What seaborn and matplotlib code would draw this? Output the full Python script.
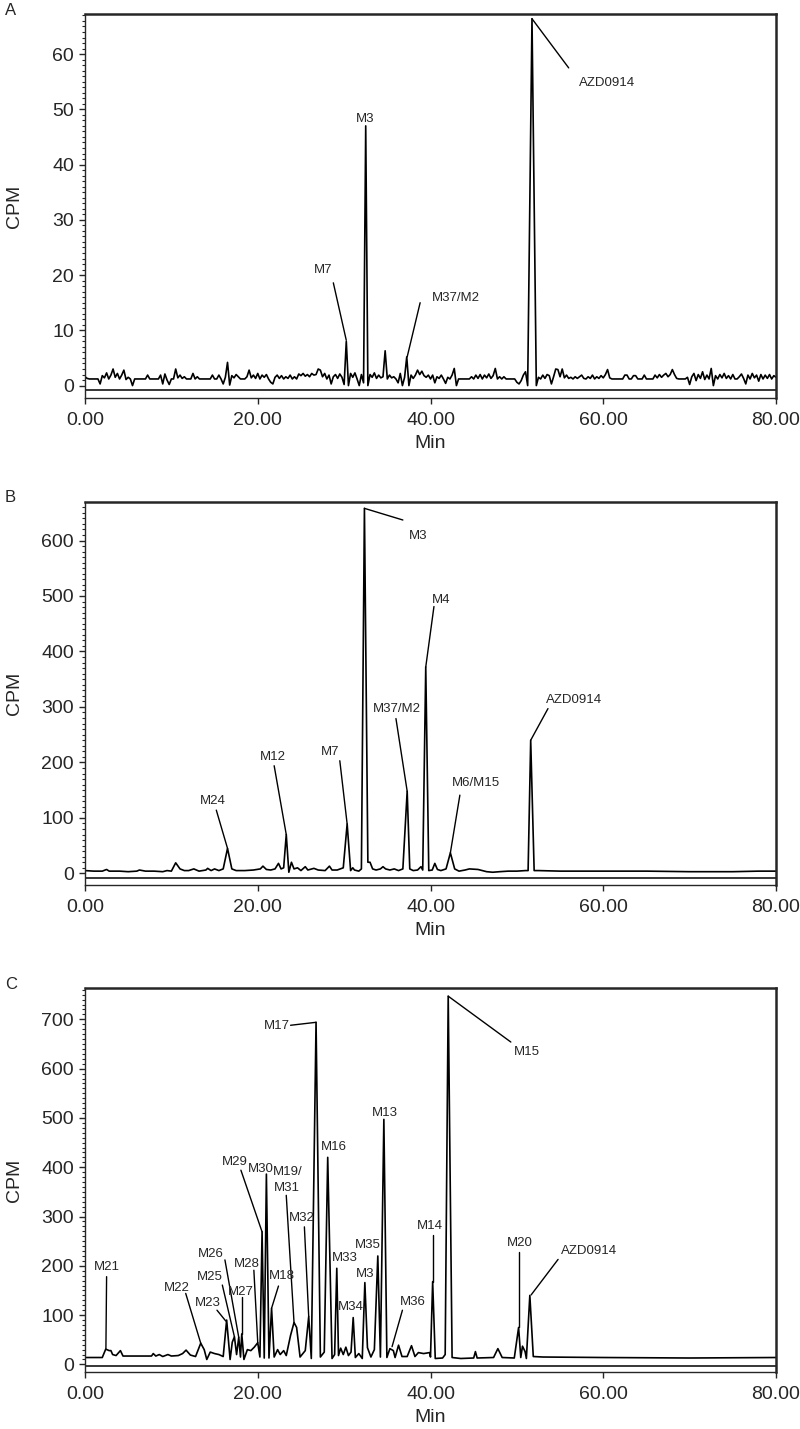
import numpy as np
import matplotlib
matplotlib.use('Agg')
import matplotlib.pyplot as plt
import seaborn as sns

# ---------------- data ----------------
# Panel A: flow detector sampled every 0.25 min, 0-80 min
a_time = np.linspace(0, 80, 321)
a_cpm = [
    1.6, 1.3, 1.2, 1.2, 1.2, 1.2, 1.2, 0.3, 1.8, 1.4, 2.3, 1.2, 1.9, 3.0, 1.5, 2.2, 1.2, 1.9, 2.8, 1.1,
    1.5, 1.2, 0.0, 1.2, 1.2, 1.2, 1.2, 1.2, 1.2, 1.9, 1.2, 1.2, 1.2, 1.2, 1.2, 1.9, 0.3, 2.1, 1.0, 0.2,
    1.2, 1.2, 3.0, 1.4, 1.9, 1.3, 1.6, 1.2, 1.2, 1.2, 2.2, 1.2, 1.6, 1.2, 1.2, 1.2, 1.2, 1.2, 1.2, 1.9,
    1.2, 1.2, 1.9, 1.2, 0.3, 1.5, 4.2, 0.1, 1.8, 1.4, 2.0, 1.6, 1.2, 1.2, 1.2, 1.6, 2.8, 1.4, 1.9, 1.3,
    2.2, 1.2, 1.9, 1.5, 2.0, 1.2, 0.6, 0.3, 1.5, 1.9, 1.3, 1.8, 1.2, 1.6, 1.3, 1.9, 1.2, 1.6, 1.2, 2.1,
    1.8, 2.2, 1.7, 2.0, 1.6, 2.2, 1.9, 2.0, 3.0, 2.8, 1.6, 2.2, 1.2, 1.9, 0.3, 1.6, 2.0, 1.3, 2.1, 1.5,
    0.2, 8.0, 0.0, 2.2, 1.5, 2.3, 1.2, 0.0, 2.0, 0.5, 47.0, 0.0, 2.0, 1.5, 2.3, 1.3, 1.9, 1.4, 1.6, 6.3,
    1.2, 1.9, 1.4, 1.6, 1.2, 0.5, 2.2, 0.0, 1.5, 5.2, 0.0, 1.9, 1.3, 1.9, 2.8, 2.0, 2.6, 1.8, 1.5, 1.9,
    1.2, 1.9, 0.5, 1.6, 1.3, 1.9, 1.2, 0.4, 1.5, 1.2, 1.9, 3.1, 0.0, 1.2, 1.2, 1.2, 1.2, 1.2, 1.2, 1.6,
    1.2, 1.9, 1.3, 2.0, 1.2, 1.9, 1.4, 2.1, 1.3, 1.8, 3.1, 1.2, 1.6, 1.2, 1.6, 1.2, 1.2, 1.2, 1.2, 1.2,
    0.6, 0.3, 0.9, 1.9, 2.5, 0.0, 33.0, 66.4, 33.0, 0.0, 1.5, 1.2, 1.9, 1.3, 2.0, 1.8, 0.3, 1.6, 3.0, 2.9,
    1.6, 3.0, 1.4, 1.9, 1.3, 1.5, 1.2, 1.6, 1.3, 1.6, 1.9, 1.3, 1.2, 1.6, 1.3, 1.9, 1.2, 1.6, 1.3, 1.8,
    1.4, 2.0, 2.9, 1.4, 1.2, 1.2, 1.2, 1.2, 1.2, 1.2, 1.9, 1.9, 1.2, 1.2, 1.8, 1.8, 1.2, 1.2, 1.2, 1.9,
    1.2, 1.2, 1.2, 1.2, 1.9, 1.4, 2.0, 1.5, 1.9, 2.2, 1.6, 2.0, 2.9, 2.0, 1.3, 1.2, 1.2, 1.2, 1.2, 1.5,
    0.2, 1.6, 2.2, 0.9, 2.0, 1.3, 2.5, 1.1, 1.9, 1.2, 3.1, 0.0, 1.8, 1.2, 2.0, 1.4, 2.2, 1.3, 1.8, 1.2,
    2.0, 1.2, 1.2, 1.6, 2.1, 1.3, 0.3, 1.9, 1.2, 2.2, 1.4, 1.9, 0.8, 2.0, 1.2, 1.9, 1.3, 2.0, 1.2, 1.8,
    1.5,
]

# Panel B
b_time = [0.0, 1.0, 2.0, 2.5, 2.8, 4.0, 5.0, 6.0, 6.3, 7.0, 8.0, 9.0, 9.5, 10.0, 10.5, 11.0,
          11.5, 12.0, 12.6, 13.2, 14.0, 14.2, 14.6, 15.0, 15.5, 16.0, 16.5, 17.0, 17.5, 18.5,
          19.5, 20.3, 20.6, 21.0, 21.5, 22.0, 22.4, 22.7, 23.0, 23.3, 23.6, 23.9, 24.2, 24.6,
          25.0, 25.5, 25.8, 26.5, 27.0, 27.8, 28.3, 28.6, 29.2, 29.9, 30.35, 30.75, 31.0, 31.2,
          31.7, 32.0, 32.35, 32.75, 33.0, 33.3, 33.7, 34.2, 34.5, 34.8, 35.3, 35.8, 36.3, 36.8,
          37.3, 37.6, 38.0, 38.5, 38.9, 39.1, 39.45, 39.8, 40.2, 40.5, 40.8, 41.2, 41.8, 42.3,
          42.8, 43.3, 44.0, 44.5, 45.5, 46.5, 47.2, 48.0, 49.0, 50.0, 51.0, 51.3, 51.6, 52.0,
          52.5, 55.0, 60.0, 65.0, 70.0, 75.0, 78.0, 80.0]
b_cpm = [5, 4, 4, 7, 4, 4, 3, 4, 6, 4, 4, 3, 5, 4, 19, 8,
         5, 5, 8, 4, 6, 9, 5, 8, 5, 8, 45, 8, 5, 5,
         6, 8, 13, 7, 6, 8, 18, 8, 10, 70, 2, 20, 8, 10,
         5, 12, 6, 9, 6, 5, 13, 6, 6, 10, 89, 5, 10, 6,
         4, 8, 658, 20, 20, 8, 6, 8, 12, 8, 6, 8, 5, 8,
         148, 8, 5, 6, 12, 6, 372, 5, 6, 18, 7, 5, 8, 37,
         8, 4, 6, 8, 7, 3, 2, 3, 4, 4, 5, 5, 240, 5,
         5, 4, 4, 4, 3, 3, 4, 4]

# Panel C
c_time = [0.0, 2.0, 2.4, 2.8, 3.0, 3.2, 3.6, 4.1, 4.4, 5.0, 7.7, 7.9, 8.2, 8.6, 9.0, 9.6,
          10.0, 10.8, 11.3, 11.7, 12.2, 12.8, 13.4, 13.8, 14.1, 14.5, 15.0, 15.5, 16.0, 16.4,
          16.8, 17.05, 17.3, 17.55, 17.8, 18.0, 18.15, 18.4, 18.8, 19.2, 19.6, 20.0, 20.25, 20.5,
          20.75, 21.0, 21.3, 21.6, 21.9, 22.3, 22.6, 23.0, 23.3, 23.8, 24.2, 24.5, 24.9, 25.5,
          25.9, 26.2, 26.75, 27.25, 27.7, 28.1, 28.6, 28.9, 29.15, 29.35, 29.6, 29.9, 30.2, 30.5,
          30.8, 31.05, 31.3, 31.7, 32.1, 32.4, 32.7, 33.1, 33.5, 33.9, 34.2, 34.6, 34.95, 35.3,
          35.7, 35.9, 36.3, 36.7, 37.3, 37.8, 38.2, 38.6, 39.2, 39.9, 40.0, 40.25, 40.55, 41.4,
          41.7, 42.05, 42.5, 43.5, 45.0, 45.2, 45.4, 47.3, 47.8, 48.3, 49.7, 50.2, 50.45, 50.65,
          50.95, 51.1, 51.5, 51.9, 53.0, 60.0, 70.0, 80.0]
c_cpm = [14, 14, 31, 28, 28, 20, 18, 28, 17, 17, 17, 22, 17, 20, 16, 20,
         17, 18, 22, 29, 19, 16, 43, 30, 10, 25, 22, 20, 16, 90,
         10, 45, 56, 20, 55, 15, 62, 10, 30, 28, 35, 44, 15, 269,
         13, 386, 13, 114, 15, 30, 20, 28, 18, 59, 85, 75, 15, 28,
         97, 12, 694, 15, 25, 420, 12, 20, 195, 18, 33, 20, 35, 18,
         25, 95, 14, 22, 12, 166, 34, 15, 30, 220, 15, 497, 14, 32,
         28, 14, 39, 16, 16, 38, 16, 24, 22, 24, 15, 168, 12, 13,
         20, 747, 14, 12, 13, 26, 13, 14, 32, 14, 13, 75, 14, 37,
         26, 12, 140, 16, 15, 14, 13, 14]

# peak labels: (text, label centre (min, cpm), leader line start, leader line end or None)
a_labels = [
    ('M7', (27.6, 21.0), (28.75, 18.6), (30.25, 8.2)),
    ('M3', (32.4, 48.2), None, None),
    ('M37/M2', (42.9, 15.9), (38.8, 15.0), (37.3, 5.2)),
    ('AZD0914', (60.4, 54.8), (51.75, 66.4), (56.0, 57.5)),
]
b_labels = [
    ('M24', (14.8, 130), (15.2, 114), (16.5, 45)),
    ('M12', (21.8, 210), (21.9, 194), (23.3, 70)),
    ('M7', (28.4, 218), (29.5, 203), (30.35, 89)),
    ('M3', (38.6, 608), (32.35, 658), (36.8, 637)),
    ('M37/M2', (36.1, 297), (36.0, 279), (37.3, 148)),
    ('M4', (41.2, 493), (40.4, 481), (39.45, 372)),
    ('M6/M15', (45.3, 162), (43.4, 141), (42.3, 37)),
    ('AZD0914', (56.6, 313), (53.6, 297), (51.6, 240)),
]
c_labels = [
    ('M21', (2.58, 197), (2.5, 178), (2.42, 31)),
    ('M22', (10.66, 156), (11.66, 144), (13.4, 43)),
    ('M23', (14.2, 125), (15.28, 110), (16.3, 88)),
    ('M25', (14.4, 178), (15.9, 161), (17.3, 56)),
    ('M26', (14.6, 224), (16.2, 212), (17.8, 55)),
    ('M27', (18.0, 147), (18.15, 137), (18.15, 62)),
    ('M28', (18.75, 203), (19.55, 191), (20.0, 44)),
    ('M29', (17.3, 411), (18.05, 394), (20.5, 269)),
    ('M30', (20.4, 396), None, None),
    ('M19/', (23.5, 391), None, None),
    ('M31', (23.4, 357), (23.3, 343), (24.2, 85)),
    ('M18', (22.8, 179), (22.4, 159), (21.6, 114)),
    ('M32', (25.1, 298), (25.4, 279), (25.9, 97)),
    ('M17', (22.2, 686), (23.8, 688), (26.75, 694)),
    ('M16', (28.8, 441), None, None),
    ('M33', (30.1, 215), None, None),
    ('M34', (30.8, 117), None, None),
    ('M3', (32.4, 183), None, None),
    ('M35', (32.7, 242), None, None),
    ('M13', (34.7, 510), None, None),
    ('M36', (38.0, 127), (36.75, 110), (35.55, 36)),
    ('M14', (39.95, 281), (40.25, 262), (40.25, 168)),
    ('M15', (51.2, 634), (42.05, 747), (49.3, 654)),
    ('M20', (50.35, 247), (50.2, 228), (50.2, 75)),
    ('AZD0914', (58.3, 230), (54.77, 213), (51.65, 141)),
]

# ---------------- layout ----------------
W, H = 800, 1429
PANELS = [
    # letter, time, cpm, labels, (top px, bottom px), ylim, baseline y, ytick step, minor step, ymax tick
    ('A', a_time, a_cpm, a_labels, (14.3, 398.3), (-2.3, 67.2), -0.8, 10, 1, 60),
    ('B', b_time, b_cpm, b_labels, (501.7, 885.0), (-21, 670), -9, 100, 10, 600),
    ('C', c_time, c_cpm, c_labels, (988.3, 1372.3), (-16, 763), -4, 100, 10, 700),
]
LEFT, RIGHT = 85, 776
FS_TICK = 14
FS_ANN = 9.5

sns.set_style('ticks')
plt.rcParams['font.family'] = ['Liberation Sans', 'DejaVu Sans']
plt.rcParams['axes.linewidth'] = 1.0

fig = plt.figure(figsize=(W / 100, H / 100), dpi=100)

for letter, t, cpm, labels, (top, bot), ylim, base, step, mstep, ymaxtick in PANELS:
    ax = fig.add_axes([LEFT / W, 1 - bot / H, (RIGHT - LEFT) / W, (bot - top) / H])
    sns.lineplot(x=t, y=cpm, ax=ax, color='black', lw=1.2,
                 estimator=None, sort=False)
    ax.axhline(base, color='black', lw=1.1)

    for text, (lx, ly), p0, p1 in labels:
        ax.text(lx, ly, text, ha='center', va='center', fontsize=FS_ANN)
        if p0 is not None:
            ax.plot([p0[0], p1[0]], [p0[1], p1[1]], color='black', lw=1.0)

    ax.set_xlim(0, 80)
    ax.set_ylim(*ylim)
    ax.set_xticks([0, 20, 40, 60, 80])
    ax.set_xticklabels(['0.00', '20.00', '40.00', '60.00', '80.00'])
    ax.set_yticks(np.arange(0, ymaxtick + 1, step))
    ax.set_yticks(np.arange(0, ylim[1], mstep), minor=True)
    ax.tick_params(axis='both', which='major', labelsize=FS_TICK, length=4, width=1.0)
    ax.tick_params(axis='x', which='major', pad=6)
    ax.tick_params(axis='y', which='major', pad=4)
    ax.tick_params(axis='y', which='minor', length=2, width=0.8)
    ax.tick_params(axis='x', which='minor', bottom=False)

    for side in ['top', 'right']:
        ax.spines[side].set_linewidth(1.8)

    ax.set_xlabel('Min', fontsize=FS_TICK)
    ax.set_ylabel('CPM', fontsize=FS_TICK)
    ax.xaxis.set_label_coords(0.5, -(37 / (bot - top)))
    ax.yaxis.set_label_coords(-(LEFT - 23) / (RIGHT - LEFT), 0.5)

    fig.text(5 / W, 1 - (top - 4) / H, letter, fontsize=12, ha='left', va='center')

fig.savefig('out.png', dpi=100)
